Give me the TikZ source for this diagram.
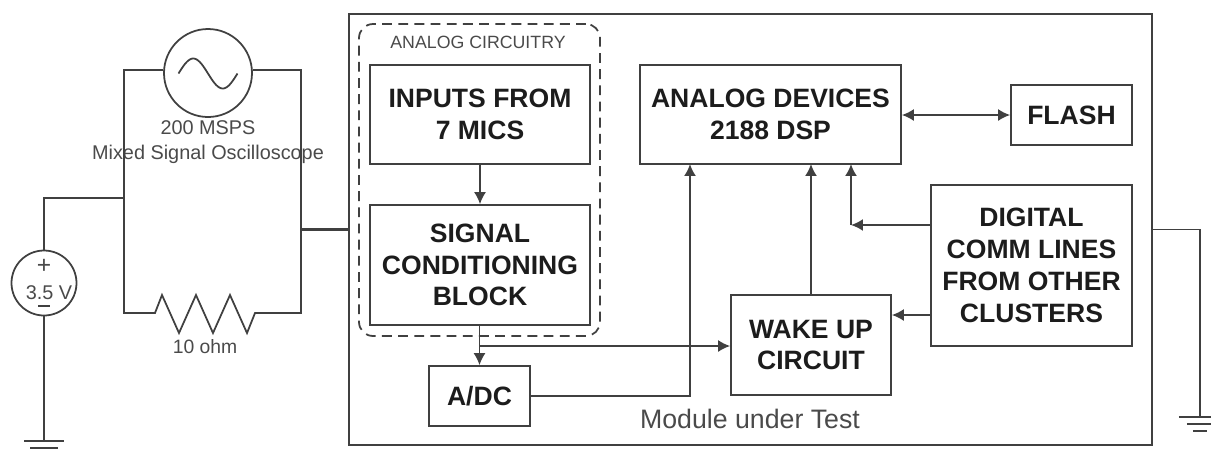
\documentclass[tikz,border=0pt]{standalone}
\usepackage{fontspec}
\setmainfont{Liberation Sans}
\usetikzlibrary{arrows.meta}

\tikzset{
    wire/.style={line width=0.5pt, draw=wirecol},
    flow/.style={wire, -{Latex[length=3.4pt,width=3.4pt]}},
    blockbox/.style={wire, draw, rectangle, inner sep=0pt, align=center, text=textcol,
        font=\bfseries\fontsize{7.55}{9.05}\selectfont},
    thinlabel/.style={inner sep=0pt, align=center, text=labelcol, font=\fontsize{5.65}{7.1}\selectfont},
}
\definecolor{wirecol}{HTML}{404040}
\definecolor{textcol}{HTML}{1C1C1C}
\definecolor{labelcol}{HTML}{4A4A4A}

\begin{document}
\begin{tikzpicture}

\useasboundingbox (0,0) rectangle (12.11,4.49);

% module under test
\node [wire, draw, rectangle, minimum width=8.03cm, minimum height=4.31cm] (module) at (7.505,2.195) {};
\node [wire, draw, rectangle, dash pattern=on 2.8pt off 1.8pt, rounded corners=4pt,
    minimum width=2.41cm, minimum height=3.12cm] (analog) at (4.795,2.69) {};
\node [thinlabel, font=\fontsize{5.05}{6}\selectfont] (analoglabel) at (4.78,4.07) {ANALOG CIRCUITRY};
\node [thinlabel, font=\fontsize{7.6}{9}\selectfont] (modulelabel) at (7.50,0.30) {Module under Test};

\node [blockbox, minimum width=2.205cm, minimum height=0.99cm] (inputs) at (4.80,3.345) {INPUTS FROM\\7 MICS};
\node [blockbox, minimum width=2.205cm, minimum height=1.20cm] (signal) at (4.80,1.84) {SIGNAL\\CONDITIONING\\BLOCK};
\node [blockbox, minimum width=1.01cm, minimum height=0.60cm] (adc) at (4.795,0.53) {A/DC};
\node [blockbox, minimum width=2.61cm, minimum height=0.99cm] (dsp) at (7.705,3.345) {ANALOG DEVICES\\2188 DSP};
\node [blockbox, minimum width=1.21cm, minimum height=0.60cm] (flash) at (10.715,3.34) {FLASH};
\node [blockbox, minimum width=2.01cm, minimum height=1.61cm] (digital) at (10.315,1.835) {DIGITAL\\COMM LINES\\FROM OTHER\\CLUSTERS};
\node [blockbox, minimum width=1.60cm, minimum height=1.00cm] (wake) at (8.11,1.04) {WAKE UP\\CIRCUIT};

\coordinate (branch) at (4.80,1.03);
\coordinate (adcup) at (6.90,2.85);
\coordinate (wakeup) at (8.11,2.85);
\coordinate (digup) at (8.51,2.85);
\coordinate (digcorner) at (8.51,2.24);

\draw [flow] (inputs) -- (signal);
\draw [flow] (signal.south -| adc) -- (adc.north);
\draw [flow] (branch) -- (branch -| wake.west);
\draw [flow] (adc.east) -| (adcup);
\draw [flow] (wake.north) -- (wakeup);
\draw [flow] (digital.west |- digcorner) -- (digcorner);
\draw [flow] (digcorner) -- (digup);
\draw [flow] (digital.west |- 0,1.34) -- (wake.east |- 0,1.34);
\draw [flow, {Latex[length=3.4pt,width=3.4pt]}-{Latex[length=3.4pt,width=3.4pt]}] (dsp.east |- flash) -- (flash.west);

% oscilloscope and shunt
\node [wire, draw, circle, minimum size=0.88cm, inner sep=0pt] (scope) at (2.08,3.76) {};
\draw [wire] plot [domain=-1:1, samples=40] ({2.08+0.295*\x},{3.755-0.15*sin(180*\x)});
\node [thinlabel] (scopelabel) at (2.08,3.065) {200 MSPS\\Mixed Signal Oscilloscope};

\coordinate (lefttop) at (1.24,3.79);
\coordinate (leftbot) at (1.24,1.36);
\coordinate (righttop) at (3.01,3.79);
\coordinate (rightbot) at (3.01,1.36);
\coordinate (leftjoin) at (1.24,2.51);
\coordinate (rightjoin) at (3.01,2.195);

\draw [wire] (scope.west |- lefttop) -- (lefttop) -- (leftbot) -- (1.55,1.36)
    -- ++(0.07,0.18) -- ++(0.17,-0.38) -- ++(0.17,0.38) -- ++(0.17,-0.38) -- ++(0.17,0.38) -- ++(0.17,-0.38)
    -- (2.55,1.36) -- (rightbot) -- (righttop) -- (scope.east |- righttop);
\node [thinlabel, font=\fontsize{5.5}{7}\selectfont] (shuntlabel) at (2.05,1.02) {10 ohm};
\draw [wire, line width=0.7pt] (rightjoin) -- (module.west);

% supply
\node [wire, draw, circle, minimum size=0.65cm, inner sep=0pt] (supply) at (0.44,1.66) {};
\node [thinlabel, font=\fontsize{7}{8}\selectfont] (supplyplus) at (0.44,1.83) {+};
\node [thinlabel] (supplyvalue) at (0.49,1.56) {3.5 V};
\coordinate (supplyminus) at (0.44,1.43);
\draw [wire, line width=0.6pt] ([xshift=-0.06cm]supplyminus) -- ([xshift=0.06cm]supplyminus);

\coordinate (supplycorner) at (0.44,2.51);
\coordinate (gndleft) at (0.44,0.08);
\coordinate (gndleftb) at (0.44,0.01);
\coordinate (gndcorner) at (12.00,2.195);
\coordinate (gndright) at (12.00,0.32);

\draw [wire] (supply.north) -- (supplycorner) -- (leftjoin);
\draw [wire] (supply.south) -- (gndleft);
\draw [wire] ([xshift=-0.2cm]gndleft) -- ([xshift=0.2cm]gndleft);
\draw [wire] ([xshift=-0.14cm]gndleftb) -- ([xshift=0.14cm]gndleftb);

\draw [wire] (module.east) -- (gndcorner) -- (gndright);
\draw [wire] ([xshift=-0.21cm]gndright) -- ([xshift=0.11cm]gndright);
\draw [wire] ([xshift=-0.13cm,yshift=-0.07cm]gndright) -- ([xshift=0.11cm,yshift=-0.07cm]gndright);
\draw [wire] ([xshift=-0.07cm,yshift=-0.14cm]gndright) -- ([xshift=0.07cm,yshift=-0.14cm]gndright);

\end{tikzpicture}
\end{document}
